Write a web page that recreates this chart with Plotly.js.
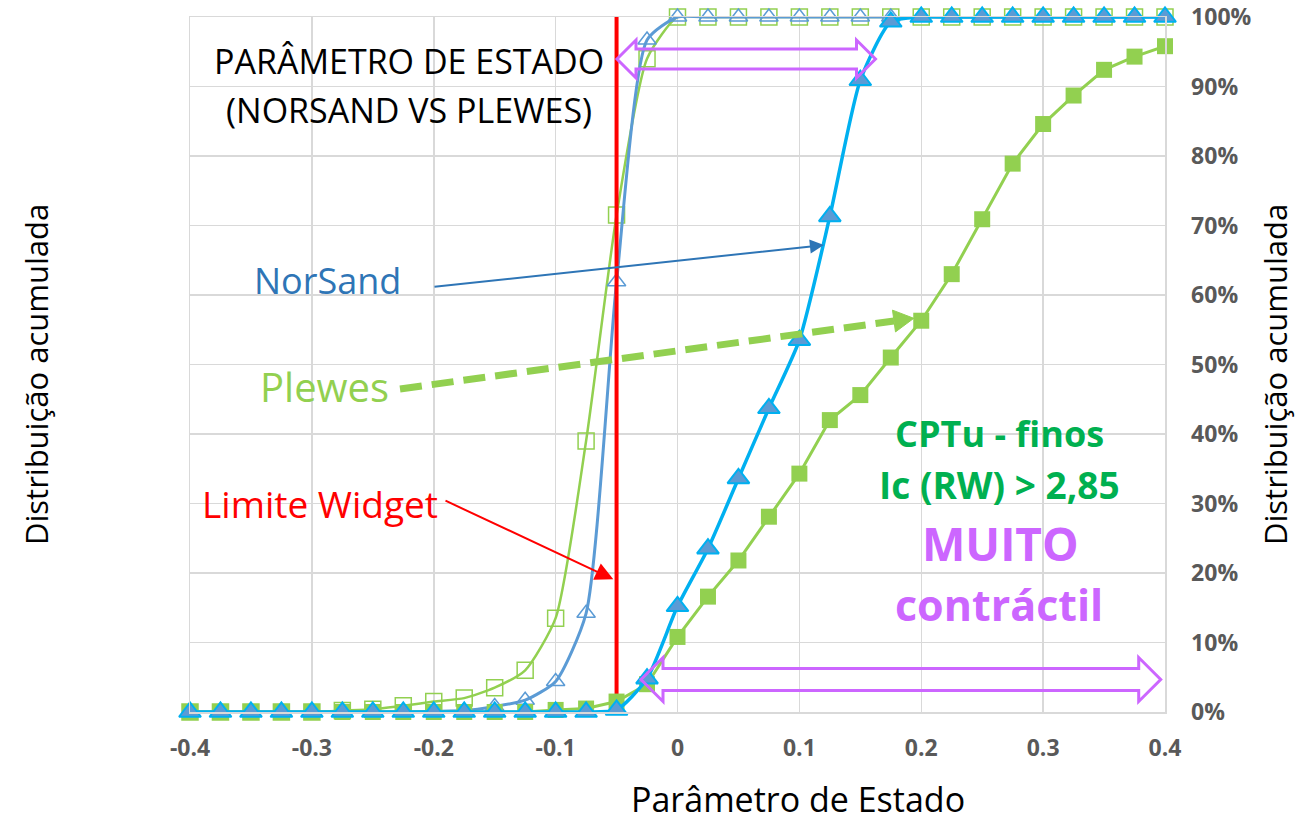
<!DOCTYPE html>
<html>
<head>
<meta charset="utf-8">
<script src="https://cdn.plot.ly/plotly-3.0.1.min.js"></script>
<style>html,body{margin:0;padding:0;background:#fff;}#chart{width:1312px;height:822px;}</style>
</head>
<body>
<div id="chart"></div>
<script>
// ---- data ----
const parametroEstado = [-0.4,-0.375,-0.35,-0.325,-0.3,-0.275,-0.25,-0.225,-0.2,-0.175,-0.15,-0.125,-0.1,-0.075,-0.05,-0.025,0,0.025,0.05,0.075,0.1,0.125,0.15,0.175,0.2,0.225,0.25,0.275,0.3,0.325,0.35,0.375,0.4];
const plewesAreias  = [0,0,0,0,0,0.2,0.4,0.9,1.5,2.0,3.5,6.0,13.5,39.0,71.5,94.0,100,100,100,100,100,100,100,100,100,100,100,100,100,100,100,100,100];
const norsandAreias = [0,0,0,0,0,0,0,0,0.1,0.2,0.8,1.7,4.4,14.2,61.9,96.7,100,100,100,100,100,100,100,100,100,100,100,100,100,100,100,100,100];
const norsandFinos  = [0,0,0,0,0,0,0,0,0,0,0,0,0,0,0.3,4.8,15.2,23.5,33.6,43.7,53.5,71.3,90.9,99.3,100,100,100,100,100,100,100,100,100];
const plewesFinos   = [0,0,0,0,0,0,0,0,0,0,0,0,0.3,0.5,1.5,4.0,10.8,16.6,21.8,28.1,34.3,42.0,45.6,51.0,56.3,63.0,70.9,78.9,84.6,88.7,92.4,94.3,95.8];
const limiteWidget = -0.05;
const xTickVals = [-0.4,-0.3,-0.2,-0.1,0,0.1,0.2,0.3,0.4];
const xTickText = ['-0.4','-0.3','-0.2','-0.1','0','0.1','0.2','0.3','0.4'];
const yTickVals = [0,10,20,30,40,50,60,70,80,90,100];
const yTickText = ['0%','10%','20%','30%','40%','50%','60%','70%','80%','90%','100%'];

// ---- layout geometry (annotation helpers) ----
const L = 190, R = 1165, T = 17, B = 712;
const X0 = -0.4, X1 = 0.4, Y0 = 0, Y1 = 100;
function dx(px){ return X0 + (px - L) / (R - L) * (X1 - X0); }
function dy(py){ return Y0 + (B - py) / (B - T) * (Y1 - Y0); }
function path(pts){ return 'M' + pts.map(p => dx(p[0]) + ',' + dy(p[1])).join('L') + 'Z'; }
function dblArrow(xl, xr, yc, hs, hh, hl){
  return path([[xl,yc],[xl+hl,yc-hh],[xl+hl,yc-hs],[xr-hl,yc-hs],[xr-hl,yc-hh],[xr,yc],[xr-hl,yc+hh],[xr-hl,yc+hs],[xl+hl,yc+hs],[xl+hl,yc+hh]]);
}

const FONT = '"Open Sans", Lato, sans-serif';
const GREEN = '#92D050', BLUE = '#5B9BD5', CYAN = '#00B0F0', VIOLET = '#CC66FF';

const traces = [
  {x: parametroEstado, y: plewesAreias, mode: 'lines+markers', line: {color: GREEN, width: 2.5, shape: 'spline', smoothing: 0.6},
   marker: {symbol: 'square-open', size: 16, color: GREEN, line: {width: 1.5}}, cliponaxis: false},
  {x: parametroEstado, y: norsandAreias, mode: 'lines+markers', line: {color: BLUE, width: 3, shape: 'spline', smoothing: 0.6},
   marker: {symbol: 'triangle-up-open', size: 16, color: BLUE, line: {width: 1.5}}, cliponaxis: false},
  {x: [limiteWidget, limiteWidget], y: [0, 100], mode: 'lines', line: {color: '#FF0000', width: 4}, cliponaxis: false},
  {x: parametroEstado, y: plewesFinos, mode: 'lines+markers', line: {color: GREEN, width: 3},
   marker: {symbol: 'square', size: 16, color: GREEN}, cliponaxis: false},
  {x: parametroEstado, y: norsandFinos, mode: 'lines+markers', line: {color: CYAN, width: 3.5, shape: 'spline', smoothing: 0.6},
   marker: {symbol: 'triangle-up', size: 19, color: BLUE, line: {color: CYAN, width: 2}}, cliponaxis: false}
];

// Plewes dashed arrow geometry (pixels)
const pwStart = [400, 389], pwTip = [913.8, 318.3];
const ux = pwTip[0]-pwStart[0], uy = pwTip[1]-pwStart[1], ul = Math.hypot(ux, uy);
const u = [ux/ul, uy/ul], n = [-u[1], u[0]];
const hlen = 20, hw = 11;
const base = [pwTip[0]-hlen*u[0], pwTip[1]-hlen*u[1]];

const shapes = [
  {type: 'path', xref: 'x', yref: 'y', path: dblArrow(617, 875.5, 59, 10, 19, 19), line: {color: VIOLET, width: 3}, fillcolor: 'rgba(0,0,0,0)', layer: 'above'},
  {type: 'path', xref: 'x', yref: 'y', path: dblArrow(641, 1160.7, 679.5, 11, 22, 22), line: {color: VIOLET, width: 3}, fillcolor: 'rgba(0,0,0,0)', layer: 'above'},
  {type: 'line', xref: 'x', yref: 'y', x0: dx(pwStart[0]), y0: dy(pwStart[1]), x1: dx(base[0]), y1: dy(base[1]),
   line: {color: GREEN, width: 7, dash: '22px,10px'}, layer: 'above'},
  {type: 'path', xref: 'x', yref: 'y', path: path([pwTip, [base[0]+hw*n[0], base[1]+hw*n[1]], [base[0]-hw*n[0], base[1]-hw*n[1]]]),
   line: {color: GREEN, width: 1}, fillcolor: GREEN, layer: 'above'}
];

function txt(text, px, py, size, color, bold){
  return {text: text, x: dx(px), y: dy(py), xref: 'x', yref: 'y', showarrow: false,
          xanchor: 'center', yanchor: 'middle', font: {family: FONT, size: size, color: color, weight: bold ? 'bold' : 'normal'}};
}
function paperTxt(text, px, py, size, angle){
  return {text: text, x: (px-L)/(R-L), y: (B-py)/(B-T), xref: 'paper', yref: 'paper', showarrow: false,
          xanchor: 'center', yanchor: 'middle', textangle: angle || 0, font: {family: FONT, size: size, color: '#000000'}};
}
function arrow(fromPx, toPx, color, size){
  return {text: '', x: dx(toPx[0]), y: dy(toPx[1]), ax: dx(fromPx[0]), ay: dy(fromPx[1]), xref: 'x', yref: 'y', axref: 'x', ayref: 'y',
          showarrow: true, arrowhead: 2, arrowwidth: 2, arrowsize: size, arrowcolor: color, standoff: 0, startstandoff: 0};
}

const annotations = [
  txt('PARÂMETRO DE ESTADO', 408.5, 61, 34, '#000000'),
  txt('(NORSAND VS PLEWES)', 408.5, 110, 34, '#000000'),
  txt('NorSand', 327.5, 280, 36, '#2E75B6'),
  txt('Plewes', 324, 386, 40, GREEN),
  txt('Limite Widget', 320, 503, 37, '#FF0000'),
  txt('CPTu - finos', 999, 433, 36, '#00B050', true),
  txt('Ic (RW) > 2,85', 999.4, 484, 37, '#00B050', true),
  txt('MUITO', 1000, 543, 46, VIOLET, true),
  txt('contráctil', 999, 604, 43, VIOLET, true),
  arrow([433, 287], [823.9, 245], '#2E75B6', 1.4),
  arrow([444, 500], [613.3, 579.3], '#FF0000', 1.8),
  paperTxt('Parâmetro de Estado', 797.5, 799, 34),
  paperTxt('Distribuição acumulada', 36, 375, 31, -90),
  paperTxt('Distribuição acumulada', 1275, 375, 31, -90)
];

const layout = {
  width: 1312, height: 822,
  margin: {l: L, r: 1312 - R, t: T, b: 822 - B, pad: 0},
  paper_bgcolor: '#ffffff', plot_bgcolor: '#ffffff',
  showlegend: false,
  font: {family: FONT},
  xaxis: {range: [X0, X1], tickvals: xTickVals, ticktext: xTickText, showgrid: true, gridcolor: '#D9D9D9', gridwidth: 1.5,
          zeroline: false, showline: true, linecolor: '#D9D9D9', linewidth: 1.5, mirror: true, ticks: '',
          tickfont: {family: FONT, size: 23, color: '#595959', weight: 'bold'}, ticklabelstandoff: 15},
  yaxis: {range: [Y0, Y1], side: 'right', tickvals: yTickVals, ticktext: yTickText, showgrid: true, gridcolor: '#D9D9D9', gridwidth: 1.5,
          zeroline: false, showline: true, linecolor: '#D9D9D9', linewidth: 1.5, mirror: true, ticks: '',
          tickfont: {family: FONT, size: 23, color: '#595959', weight: 'bold'}, ticklabelstandoff: 20},
  shapes: shapes,
  annotations: annotations
};

Plotly.newPlot('chart', traces, layout, {staticPlot: true, displayModeBar: false});
</script>
</body>
</html>
